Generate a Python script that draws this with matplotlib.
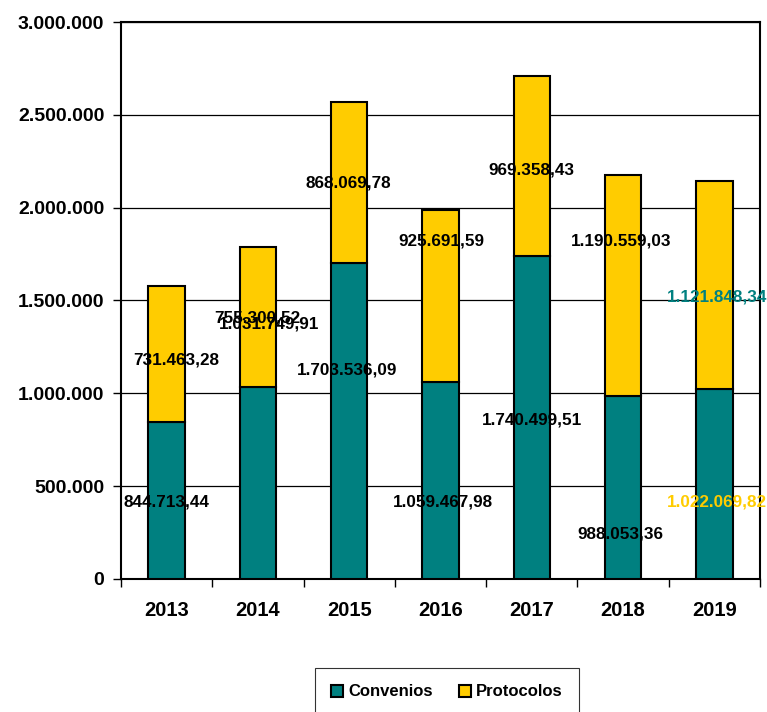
import numpy as np
import matplotlib
matplotlib.use("Agg")
import matplotlib.pyplot as plt
from matplotlib.ticker import FuncFormatter, FixedLocator

plt.rcParams["font.family"] = ["Liberation Sans Narrow", "Arial Narrow", "Liberation Sans", "DejaVu Sans"]
plt.rcParams["font.weight"] = "bold"

# ---------- DATA ----------
years = ["2013", "2014", "2015", "2016", "2017", "2018", "2019"]
convenios = [844713.44, 1031749.91, 1703536.09, 1059467.98, 1740499.51, 988053.36, 1022069.82]
protocolos = [731463.28, 755300.52, 868069.78, 925691.59, 969358.43, 1190559.03, 1121848.34]

# where the (scrambled) data labels sit: bar index offset, value height
conv_label_x = [0.0, 1.12, 1.98, 3.03, 4.0, 4.97, 6.03]
conv_label_y = [415000, 1373000, 1126000, 415000, 856000, 242000, 1519000]
prot_label_x = [0.10, 0.99, 1.99, 3.01, 4.0, 4.98, 6.03]
prot_label_y = [1180000, 1406000, 2133000, 1820000, 2203000, 1820000, 415000]

TEAL = "#008080"
GOLD = "#FFCC00"


def fmt_es(v, decimals=2):
    s = f"{v:,.{decimals}f}"
    return s.replace(",", "X").replace(".", ",").replace("X", ".")


fig = plt.figure(figsize=(7.67, 7.12), dpi=100)
ax = fig.add_axes([0.1578, 0.1868, 0.8331, 0.7823])

x = np.arange(len(years))
ax.bar(x, convenios, width=0.40, color=TEAL, edgecolor="black", linewidth=1.5,
       label="Convenios", zorder=3)
ax.bar(x, protocolos, width=0.40, bottom=convenios, color=GOLD, edgecolor="black",
       linewidth=1.5, label="Protocolos", zorder=3)

# labels - last year's labels are coloured and swapped like the original
for i in range(len(years)):
    c_col = "black"
    p_col = "black"
    if i == len(years) - 1:
        c_col = TEAL
        p_col = GOLD
    ax.text(conv_label_x[i], conv_label_y[i], fmt_es(convenios[i] if i < 6 else protocolos[i]),
            ha="center", va="center", fontsize=12.3, fontweight="bold", color=c_col, zorder=5)
    ax.text(prot_label_x[i], prot_label_y[i], fmt_es(protocolos[i] if i < 6 else convenios[i]),
            ha="center", va="center", fontsize=12.3, fontweight="bold", color=p_col, zorder=5)

ax.set_xlim(-0.5, len(years) - 0.5)
ax.set_ylim(0, 3000000)
ax.set_yticks(np.arange(0, 3000001, 500000))
ax.yaxis.set_major_formatter(FuncFormatter(lambda v, p: fmt_es(v, 0)))
ax.yaxis.grid(True, color="black", linewidth=0.9, zorder=0)

# category ticks between bars, labels centered under bars
ax.xaxis.set_major_locator(FixedLocator(np.arange(-0.5, len(years), 1.0)))
ax.xaxis.set_major_formatter(FuncFormatter(lambda v, p: ""))
ax.xaxis.set_minor_locator(FixedLocator(x))
ax.set_xticklabels(years, minor=True)
ax.tick_params(axis="x", which="minor", length=0, labelsize=14.5, pad=16)
ax.tick_params(axis="x", which="major", length=6, width=1, direction="out")
ax.tick_params(axis="y", length=6, width=1, direction="out", labelsize=14, pad=6)
for lab in ax.get_xticklabels(minor=True) + ax.get_yticklabels():
    lab.set_fontweight("bold")

for sp in ax.spines.values():
    sp.set_linewidth(1.5)
    sp.set_color("black")

leg = fig.legend(loc="center", bbox_to_anchor=(447 / 767, 1 - 692 / 712), ncol=2,
                 frameon=True, fancybox=False, edgecolor="black", fontsize=12,
                 handlelength=0.7, handleheight=0.7, handletextpad=0.3,
                 columnspacing=1.6, borderpad=1.0, borderaxespad=0.0)
leg.get_frame().set_linewidth(0.8)
leg._legend_box.sep = 0
for t in leg.get_texts():
    t.set_fontweight("bold")

fig.savefig("out.png", dpi=100)
